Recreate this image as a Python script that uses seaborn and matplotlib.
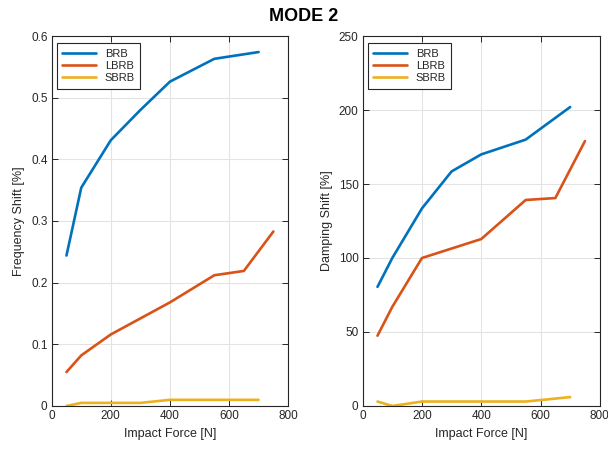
import numpy as np
import pandas as pd
import matplotlib
matplotlib.use("Agg")
import matplotlib.pyplot as plt
import seaborn as sns

# ---- data ----
series = ["BRB", "LBRB", "SBRB"]

force_brb = [50, 100, 200, 300, 400, 550, 700]
force_lbrb = [50, 100, 200, 300, 400, 550, 650, 750]
force_sbrb = [50, 100, 200, 300, 400, 550, 700]

freq_brb = [0.244, 0.354, 0.431, 0.480, 0.526, 0.563, 0.574]
freq_lbrb = [0.055, 0.082, 0.116, 0.142, 0.168, 0.212, 0.219, 0.283]
freq_sbrb = [0.0, 0.005, 0.005, 0.005, 0.010, 0.010, 0.010]

damp_force_brb = [50, 100, 200, 300, 400, 550, 700]
damp_force_lbrb = [50, 100, 200, 400, 550, 650, 750]
damp_force_sbrb = [50, 100, 200, 400, 550, 700]

damp_brb = [80.5, 100.0, 133.5, 158.5, 170.0, 180.0, 202.0]
damp_lbrb = [47.5, 67.0, 100.0, 112.8, 139.2, 140.5, 179.0]
damp_sbrb = [3.0, 0.0, 3.0, 3.0, 3.0, 6.0]

colors = ["#0072BD", "#D95319", "#EDB120"]


def long_frame(xs, ys, col):
    rows = []
    for name, x, y in zip(series, xs, ys):
        for a, b in zip(x, y):
            rows.append({"force": a, col: b, "series": name})
    return pd.DataFrame(rows)


df_freq = long_frame([force_brb, force_lbrb, force_sbrb],
                     [freq_brb, freq_lbrb, freq_sbrb], "freq")
df_damp = long_frame([damp_force_brb, damp_force_lbrb, damp_force_sbrb],
                     [damp_brb, damp_lbrb, damp_sbrb], "damp")

sns.set_theme(style="whitegrid")
plt.rcParams["font.family"] = ["Liberation Sans", "DejaVu Sans"]

fig = plt.figure(figsize=(6.08, 4.49), dpi=100)
ax1 = fig.add_axes([0.085, 0.0958, 0.389, 0.824])
ax2 = fig.add_axes([0.5965, 0.0958, 0.390, 0.824])

sns.lineplot(data=df_freq, x="force", y="freq", hue="series", palette=colors,
             linewidth=1.9, ax=ax1, estimator=None, sort=False)
sns.lineplot(data=df_damp, x="force", y="damp", hue="series", palette=colors,
             linewidth=1.9, ax=ax2, estimator=None, sort=False)

for ax, ylab, ylim, yticks in [
    (ax1, "Frequency Shift [%]", (0, 0.6), np.arange(0, 0.61, 0.1)),
    (ax2, "Damping Shift [%]", (0, 250), np.arange(0, 251, 50)),
]:
    ax.set_xlim(0, 800)
    ax.set_ylim(*ylim)
    ax.set_xticks([0, 200, 400, 600, 800])
    ax.set_yticks(yticks)
    if ax is ax1:
        ax.set_yticklabels(["0", "0.1", "0.2", "0.3", "0.4", "0.5", "0.6"])
    ax.set_xlabel("Impact Force [N]", fontsize=9, color="#262626")
    ax.set_ylabel(ylab, fontsize=9, color="#262626")
    ax.set_facecolor("white")
    ax.grid(True, color="#e3e3e3", linewidth=0.8)
    for s in ax.spines.values():
        s.set_color("#262626")
        s.set_linewidth(0.8)
    ax.tick_params(axis="both", direction="in", length=4, width=0.7,
                   labelsize=8.5, colors="#262626", top=True, right=True,
                   bottom=True, left=True, pad=3)
    leg = ax.legend(loc="upper left", fontsize=8, frameon=True, fancybox=False,
                    edgecolor="#262626", framealpha=1, borderpad=0.5,
                    handlelength=3.0, labelspacing=0.2, borderaxespad=0,
                    bbox_to_anchor=(0.022, 0.981))
    leg.get_frame().set_linewidth(0.8)
    leg.set_title(None)

fig.text(0.5, 0.963, "MODE 2", fontsize=13, fontweight="bold",
         ha="center", va="center", color="black")
fig.savefig("out.png", dpi=100)
